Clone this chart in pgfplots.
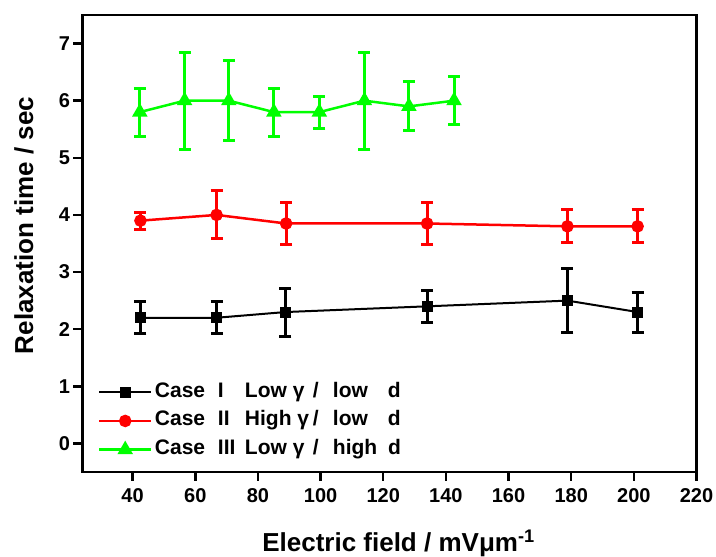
\documentclass[border=0pt]{standalone}
\usepackage{fontspec}
\setmainfont{Liberation Sans}
\usepackage{pgfplots}
\pgfplotsset{compat=1.18}
\definecolor{cgreen}{RGB}{0,255,0}
\definecolor{cred}{RGB}{255,0,0}

\newcommand{\entry}[6]{\makebox[63pt][l]{#1}\makebox[27pt][l]{#2}\makebox[68pt][l]{#3}\makebox[20pt][l]{#4}\makebox[55pt][l]{#5}#6}

\pgfplotstableread{
x     y     e
42.5  2.20  0.28
66.8  2.20  0.28
88.8  2.30  0.42
134.0 2.40  0.28
178.8 2.50  0.56
201.2 2.30  0.35
}\caseone

\pgfplotstableread{
x     y     e
42.5  3.90  0.15
66.8  4.00  0.42
89.0  3.85  0.36
134.0 3.85  0.36
178.8 3.80  0.29
201.2 3.80  0.29
}\casetwo

\pgfplotstableread{
x     y     e
42.3  5.80  0.42
56.6  6.00  0.85
70.7  6.00  0.70
85.1  5.80  0.42
99.6  5.80  0.28
114.0 6.00  0.85
128.2 5.90  0.43
142.6 6.00  0.42
}\casethree

\pgfplotsset{
  ebar/.style={error bars/.cd, y dir=both, y explicit,
    error bar style={line width=3pt},
    error mark options={rotate=90, mark size=6pt, line width=3pt}},
}

\begin{document}
\begin{tikzpicture}
\begin{axis}[
  scale only axis, width=614pt, height=457pt,
  xmin=24, xmax=220, ymin=-0.5, ymax=7.5,
  xtick={40,60,...,220}, ytick={0,1,...,7},
  xtick pos=bottom, ytick pos=left,
  tick align=outside, major tick length=9pt,
  tick style={line width=2.5pt, black},
  axis line style={line width=2.5pt},
  ticklabel style={font=\fontsize{20}{24}\selectfont\bfseries},
  xticklabel style={yshift=-4pt},
  /pgf/number format/assume math mode=true,
  xlabel={Electric field / mVμm\textsuperscript{-1}},
  ylabel={Relaxation time / sec},
  xlabel style={font=\fontsize{26}{30}\selectfont\bfseries, at={(rel axis cs:0.5,0)}, anchor=base, yshift=-80pt, xshift=9pt},
  ylabel style={font=\fontsize{26}{30}\selectfont\bfseries, at={(rel axis cs:0,0.5)}, anchor=center, xshift=18pt, yshift=58.5pt},
  legend style={draw=none, fill=none, at={(rel axis cs:0.02,0.199)}, anchor=north west,
    font=\fontsize{21}{24}\selectfont\bfseries,
    nodes={inner sep=0pt, inner xsep=2.5pt, text height=14pt, text depth=4pt}, row sep=10.7pt},
  legend cell align=left,
  legend image code/.code={\draw[mark repeat=2, mark phase=2] plot coordinates {(0pt,0pt) (26pt,0pt) (52pt,0pt)};},
]
\addplot[black, line width=2pt, mark=square*, mark size=4.5pt, mark options={solid}, ebar]
  table[x=x, y=y, y error=e] {\caseone};
\addlegendentry{\entry{Case}{I}{Low γ}{/}{low}{d}}
\addplot[cred, line width=2.5pt, mark=*, mark size=5pt, mark options={solid}, ebar]
  table[x=x, y=y, y error=e] {\casetwo};
\addlegendentry{\entry{Case}{II}{High γ}{/}{low}{d}}
\addplot[cgreen, line width=2.5pt, mark=triangle*, mark size=6.5pt, mark options={solid}, ebar]
  table[x=x, y=y, y error=e] {\casethree};
\addlegendentry{\entry{Case}{III}{Low γ}{/}{high}{d}}
\end{axis}
\pgfresetboundingbox
\path[use as bounding box] ([shift={(-82.5pt,-85pt)}]current axis.south west) rectangle ([shift={(19.5pt,15pt)}]current axis.north east);
\end{tikzpicture}
\end{document}
